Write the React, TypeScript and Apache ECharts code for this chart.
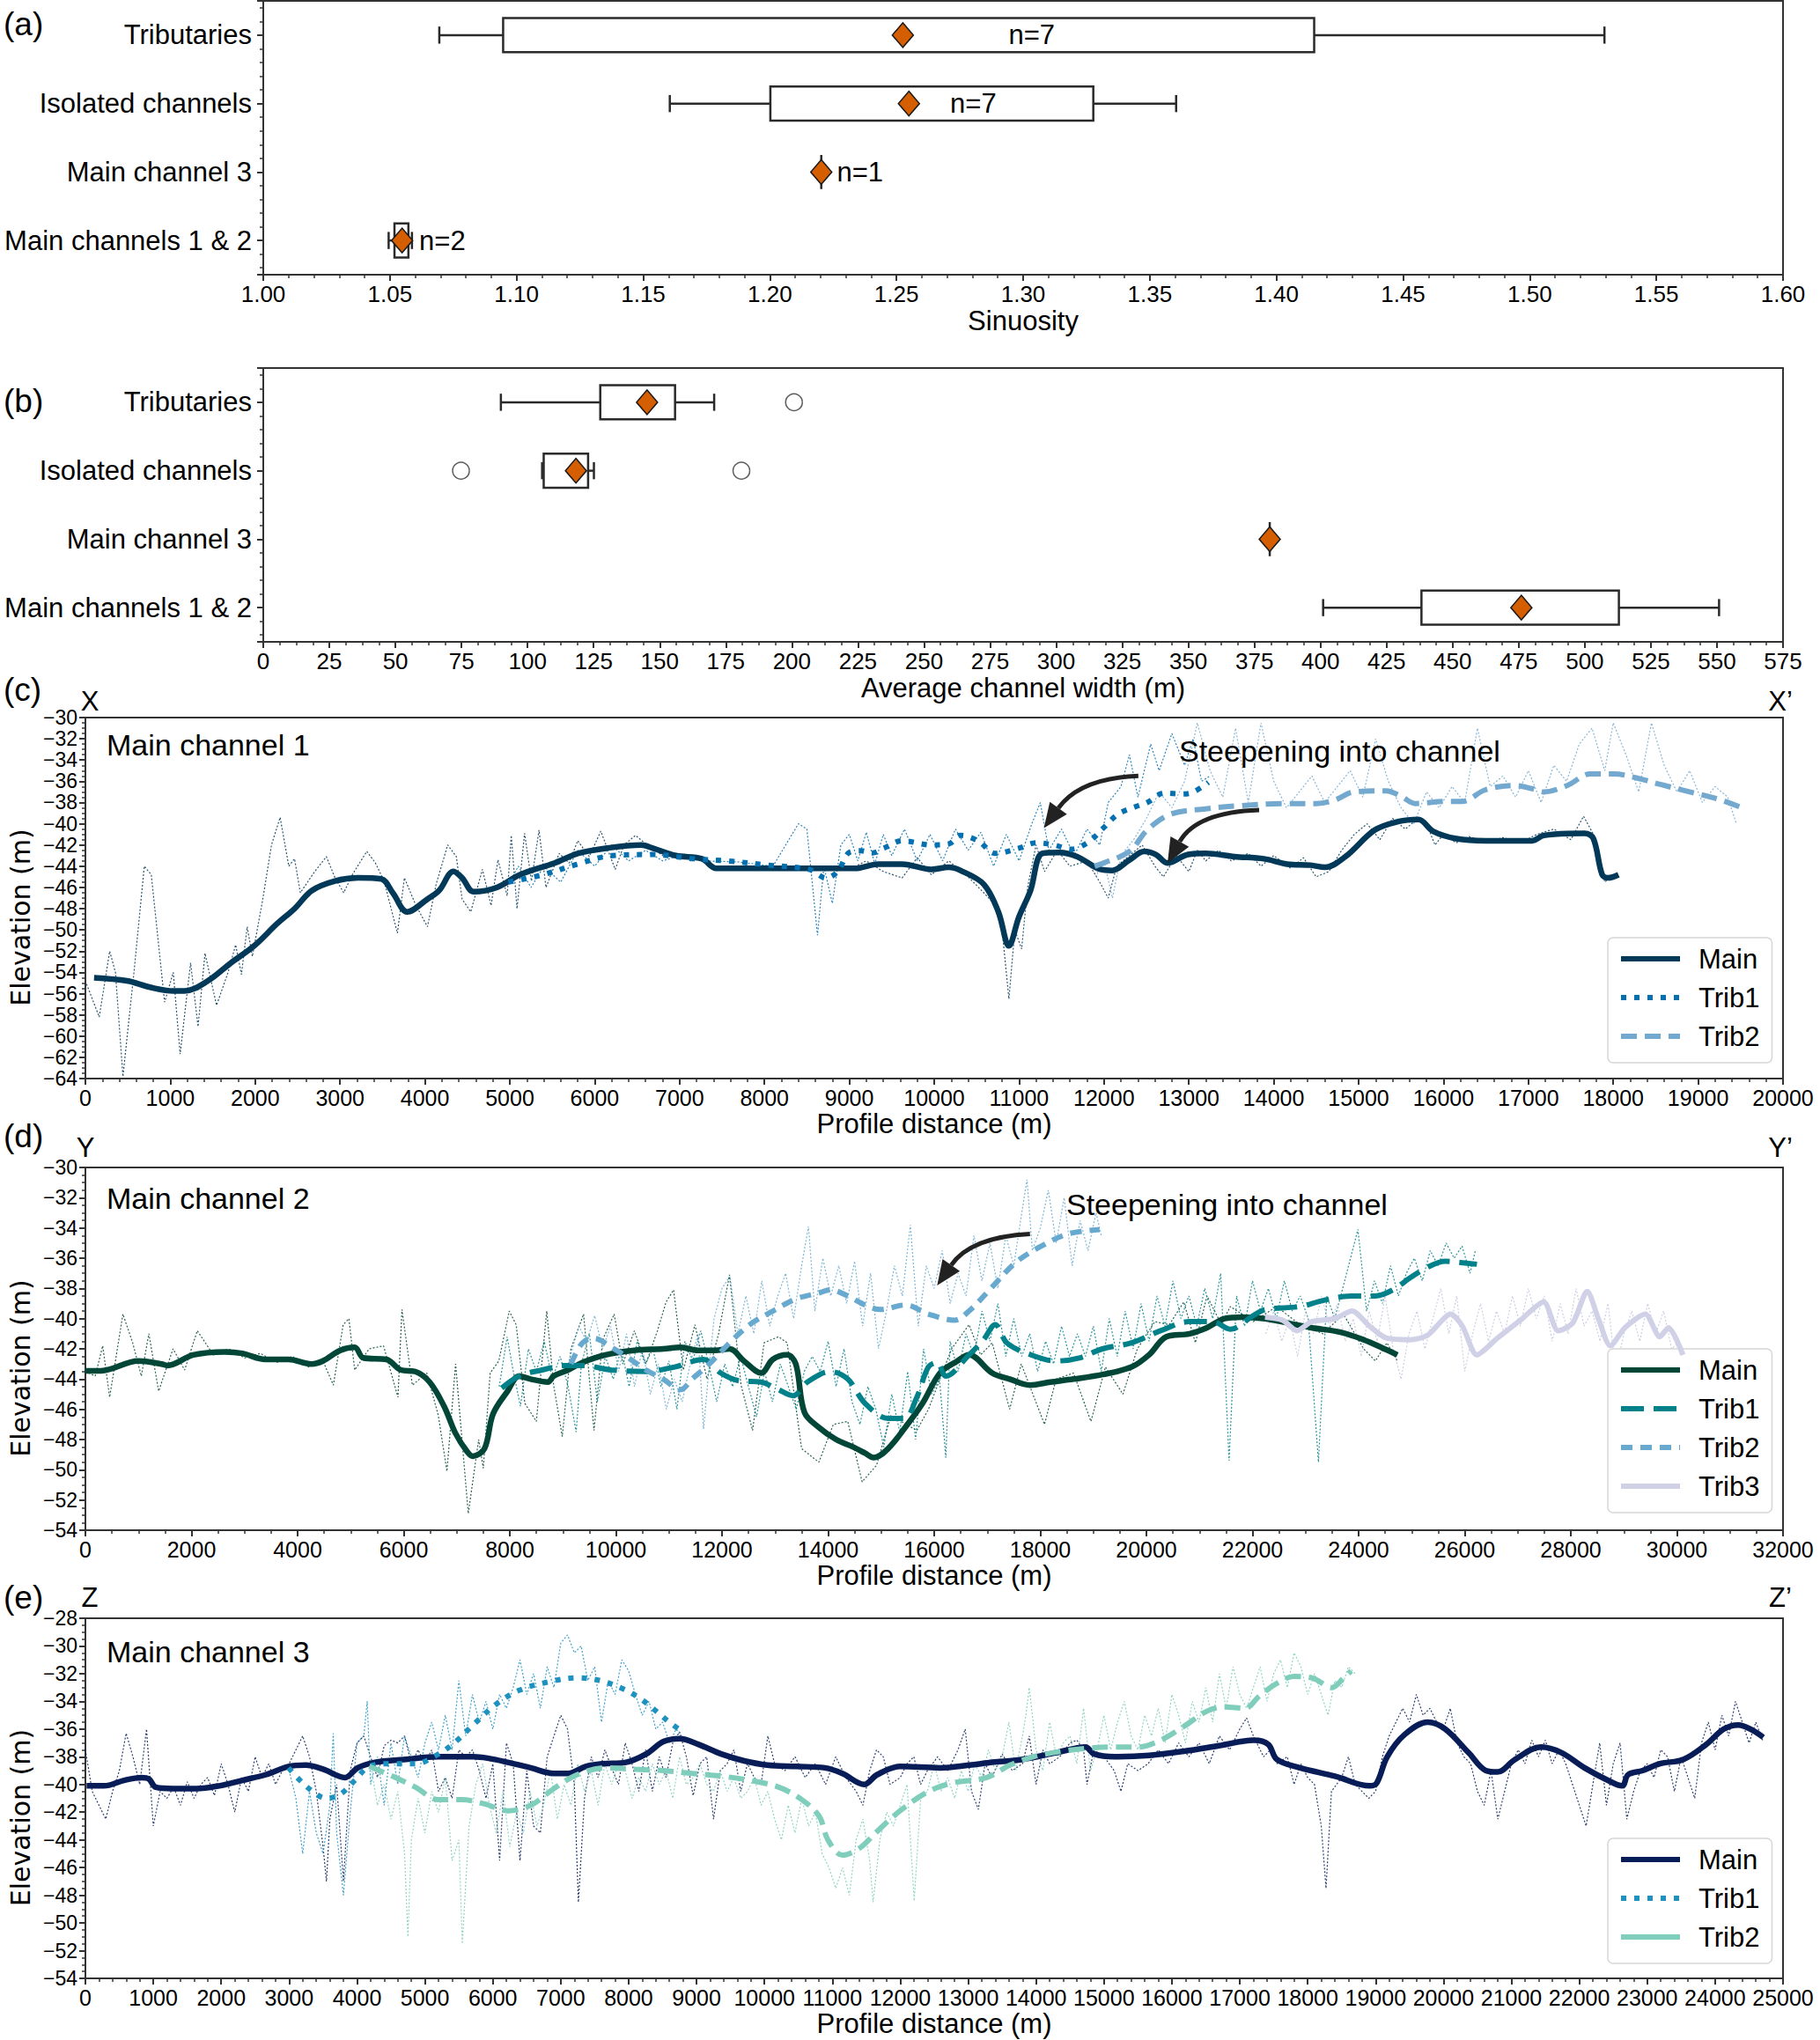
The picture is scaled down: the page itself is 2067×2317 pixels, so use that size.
import React, { useEffect, useRef } from 'react';
import * as echarts from 'echarts';

const W = 2067;
const H = 2317;
const FONT = 'Liberation Sans, Arial, sans-serif';
const TXT = '#000';
const AX = '#333';

// ---------- (a) / (b) box plots ----------
const categories = ['Main channels 1 & 2', 'Main channel 3', 'Isolated channels', 'Tributaries']; // positions 1..4
// [position, whiskerLow, q1, q3, whiskerHigh]
const sinBoxes = [
  [1, 1.0495, 1.0518, 1.0573, 1.0587],
  [2, 1.2203, 1.2203, 1.2203, 1.2203],
  [3, 1.1605, 1.2002, 1.3277, 1.3604],
  [4, 1.0695, 1.0947, 1.4149, 1.5295],
];
const sinMeans = [[1.0548, 1], [1.2203, 2], [1.2549, 3], [1.2525, 4]];
const sinCountPos = [[1.0707, 1], [1.2356, 2], [1.2803, 3], [1.3034, 4]];
const sinCountText = ['n=2', 'n=1', 'n=7', 'n=7'];

const widthBoxes = [
  [1, 401, 438.2, 512.9, 550.8],
  [2, 380.8, 380.8, 380.8, 380.8],
  [3, 105.5, 106.1, 122.9, 125.1],
  [4, 89.9, 127.5, 155.8, 170.6],
];
const widthMeans = [[476, 1], [380.8, 2], [118.3, 3], [145.2, 4]];
const widthOutliers = [[74.8, 3], [180.9, 3], [200.8, 4]];

// ---------- (c) Main channel 1 ----------
const cMain = [[102,-54.5],[490,-54.8],[762,-55.4],[1035,-55.75],[1170,-55.75],[1443,-54.8],[1715,-53.1],[1988,-51.5],[2260,-49.4],[2464,-48.0],[2668,-46.3],[2941,-45.4],[3213,-45.1],[3485,-45.2],[3621,-46.5],[3792,-48.3],[4030,-47.1],[4166,-46.3],[4336,-44.5],[4438,-45.1],[4574,-46.4],[4847,-46.0],[5119,-44.8],[5527,-43.7],[5800,-42.8],[6140,-42.3],[6549,-42.0],[6685,-42.3],[6957,-43.0],[7263,-43.3],[7433,-44.2],[7842,-44.2],[8522,-44.2],[9067,-44.2],[9340,-43.8],[9622,-43.8],[9966,-44.3],[10172,-44.1],[10309,-44.4],[10584,-45.7],[10756,-48.3],[10880,-51.5],[10997,-48.8],[11134,-46.3],[11271,-42.8],[11478,-42.7],[11684,-43.1],[11959,-44.3],[12096,-44.4],[12302,-43.4],[12474,-42.6],[12612,-42.9],[12749,-43.7],[12990,-42.9],[13196,-42.8],[13540,-43.1],[13883,-43.3],[14158,-43.8],[14433,-43.9],[14605,-44.1],[14845,-43.1],[15189,-40.6],[15464,-39.8],[15704,-39.6],[15876,-40.7],[16151,-41.4],[16495,-41.6],[17045,-41.6],[17182,-41.1],[17663,-40.9],[17766,-41.4],[17869,-44.8],[17938,-45.1],[18062,-44.8]];
const cTrib1 = [[4983,-45.5],[5391,-44.8],[5800,-43.8],[6208,-43.0],[6685,-42.9],[7161,-43.3],[7570,-43.5],[8046,-43.9],[8523,-44.3],[8727,-45.1],[8863,-44.5],[9000,-42.7],[9135,-42.55],[9272,-42.75],[9408,-42.3],[9622,-41.6],[9966,-42.0],[10172,-41.9],[10309,-41.1],[10515,-41.6],[10722,-42.8],[10997,-42.3],[11203,-41.8],[11409,-42.0],[11615,-42.4],[11821,-41.7],[11993,-40.4],[12165,-39.1],[12371,-38.4],[12509,-38.0],[12715,-37.1],[12921,-37.2],[13058,-37.0],[13230,-36.1]];
const cTrib2 = [[11890,-44.0],[11993,-43.7],[12302,-42.6],[12509,-40.6],[12784,-39.1],[13196,-38.6],[13608,-38.3],[14089,-38.1],[14502,-38.1],[14708,-37.8],[14948,-37.0],[15326,-36.9],[15498,-37.4],[15670,-38.1],[16014,-37.9],[16220,-37.9],[16495,-36.8],[16838,-36.4],[17045,-36.7],[17182,-37.0],[17457,-36.4],[17732,-35.3],[18007,-35.3],[18282,-35.7],[18557,-36.3],[18900,-37.0],[19244,-37.7],[19485,-38.4]];
const cMainRaw = [[14,-55.1],[163,-58.2],[286,-52.0],[354,-54.0],[442,-63.8],[572,-54.0],[694,-44.0],[776,-44.8],[933,-56.8],[1035,-54.0],[1116,-61.7],[1239,-53.1],[1327,-59.1],[1409,-52.2],[1545,-57.1],[1681,-54.0],[1770,-51.4],[1838,-54.2],[1906,-49.7],[1967,-52.5],[2090,-47.1],[2192,-42.0],[2294,-39.4],[2396,-44.0],[2464,-43.3],[2532,-46.5],[2702,-44.5],[2839,-43.1],[2941,-45.1],[3043,-46.5],[3145,-44.8],[3315,-42.6],[3417,-43.7],[3519,-45.4],[3676,-50.3],[3758,-45.1],[3894,-47.7],[4030,-49.7],[4132,-45.7],[4268,-42.0],[4370,-43.1],[4438,-47.1],[4540,-48.3],[4677,-44.3],[4779,-47.7],[4861,-43.4],[4969,-46.8],[5017,-41.1],[5085,-48.0],[5174,-40.9],[5255,-45.4],[5344,-40.6],[5426,-46.0],[5582,-42.8],[5698,-43.7],[5800,-41.6],[5936,-43.1],[6072,-40.7],[6242,-44.3],[6345,-42.0],[6481,-41.1],[6617,-42.0],[6821,-43.1],[7161,-43.0],[7433,-44.2],[8000,-44.3],[8500,-44.1],[9000,-44.3],[9200,-43.5],[9400,-44.5],[9622,-45.1],[9800,-43.2],[9966,-44.8],[10172,-43.5],[10400,-45.0],[10584,-46.5],[10700,-47.5],[10800,-50.0],[10880,-56.5],[10950,-50.0],[11030,-51.8],[11100,-46.0],[11200,-42.0],[11300,-44.5],[11450,-42.5],[11600,-44.0],[11800,-43.5],[11950,-45.5],[12050,-47.0],[12150,-44.0],[12300,-43.0],[12450,-42.0],[12600,-44.0],[12700,-45.0],[12850,-43.0],[13000,-44.5],[13100,-42.5],[13200,-43.5],[13350,-42.5],[13500,-43.5],[13700,-42.8],[13850,-44.0],[14000,-43.0],[14200,-44.2],[14350,-43.2],[14500,-45.0],[14650,-44.5],[14800,-42.5],[14950,-41.0],[15100,-40.0],[15250,-41.5],[15400,-39.5],[15550,-40.5],[15700,-39.5],[15800,-40.0],[15900,-42.0],[16000,-41.0],[16150,-41.8],[16300,-41.2],[16500,-41.8],[16700,-41.3],[16900,-41.8],[17100,-41.0],[17300,-40.5],[17500,-41.5],[17650,-39.3],[17800,-41.5],[17900,-45.5],[18000,-44.8]];
const cTrib1Raw = [[5000,-45.5],[5100,-44.0],[5250,-46.0],[5400,-44.0],[5600,-45.5],[5800,-42.5],[6000,-44.0],[6200,-42.0],[6400,-43.5],[6600,-42.5],[6800,-43.5],[7000,-43.0],[7300,-43.5],[7700,-43.6],[8100,-44.0],[8400,-40.0],[8500,-40.5],[8625,-50.5],[8700,-44.0],[8800,-47.5],[8900,-42.0],[9000,-41.0],[9100,-43.5],[9200,-40.8],[9300,-43.8],[9400,-41.0],[9500,-43.0],[9650,-40.5],[9800,-43.5],[9950,-41.0],[10100,-43.5],[10250,-40.5],[10400,-42.5],[10550,-40.8],[10700,-44.0],[10850,-41.0],[11000,-43.5],[11150,-40.0],[11250,-38.0],[11350,-42.5],[11500,-40.5],[11650,-43.0],[11800,-40.5],[11950,-42.0],[12050,-38.0],[12200,-36.5],[12300,-33.5],[12400,-37.5],[12550,-32.5],[12650,-35.0],[12800,-31.5],[12950,-34.5],[13050,-32.0],[13150,-36.0],[13250,-35.5]];
const cTrib2Raw = [[11900,-45.0],[12000,-43.5],[12100,-47.0],[12200,-43.0],[12350,-41.5],[12500,-39.5],[12650,-37.0],[12800,-38.5],[12950,-36.0],[13100,-30.5],[13250,-35.0],[13400,-37.5],[13550,-31.0],[13700,-38.0],[13850,-30.5],[14000,-36.0],[14150,-38.5],[14300,-37.0],[14450,-35.5],[14600,-38.0],[14750,-36.5],[14900,-35.0],[15050,-37.5],[15200,-32.0],[15350,-36.0],[15500,-38.5],[15650,-40.0],[15800,-37.0],[15950,-38.5],[16100,-36.5],[16250,-38.0],[16400,-31.0],[16550,-36.5],[16700,-35.5],[16850,-37.5],[17000,-35.0],[17150,-38.0],[17300,-34.5],[17450,-36.0],[17600,-32.5],[17750,-31.0],[17900,-35.0],[18000,-30.5],[18150,-33.5],[18300,-37.0],[18450,-30.5],[18600,-34.5],[18750,-37.0],[18900,-35.0],[19050,-38.0],[19200,-36.5],[19350,-37.5],[19450,-40.0]];

// ---------- (d) Main channel 2 ----------
const dMain = [[0,-43.45],[293,-43.45],[1000,-42.8],[1435,-43.0],[1543,-43.1],[2033,-42.4],[2630,-42.2],[2957,-42.3],[3391,-42.7],[3826,-42.7],[4261,-43.0],[4478,-42.8],[4804,-42.1],[5076,-41.9],[5239,-42.6],[5674,-42.7],[5946,-43.4],[6217,-43.5],[6489,-44.2],[6761,-45.8],[6978,-47.6],[7196,-48.8],[7304,-49.1],[7522,-48.6],[7685,-46.3],[7957,-44.8],[8174,-43.8],[8391,-44.0],[8717,-44.2],[8826,-43.8],[9098,-43.4],[9370,-42.9],[9804,-42.4],[10348,-42.1],[10891,-42.0],[11217,-41.9],[11543,-42.1],[11870,-42.1],[12141,-42.0],[12413,-42.8],[12739,-43.6],[12957,-42.7],[13228,-42.4],[13391,-43.0],[13554,-46.2],[13826,-47.2],[14152,-48.0],[14478,-48.5],[14696,-48.9],[14859,-49.2],[15130,-48.6],[15453,-47.2],[15781,-45.6],[16109,-43.6],[16438,-42.8],[16656,-42.4],[17094,-43.6],[17422,-44.0],[17805,-44.4],[18188,-44.2],[18626,-44.0],[19173,-43.7],[19720,-43.2],[20048,-42.4],[20376,-41.2],[20814,-41.0],[21142,-40.6],[21470,-40.0],[21799,-39.9],[22236,-40.0],[22674,-40.3],[23112,-40.6],[23659,-40.9],[24096,-41.4],[24424,-41.9],[24731,-42.4]];
const dTrib1 = [[7848,-44.6],[8174,-43.8],[8609,-43.4],[9043,-43.1],[9370,-43.1],[9913,-43.4],[10565,-43.5],[11109,-43.2],[11652,-42.7],[11978,-43.6],[12304,-44.1],[12739,-44.2],[13065,-44.7],[13337,-45.1],[13609,-44.2],[14043,-43.5],[14370,-44.0],[14696,-45.6],[15130,-46.6],[15435,-46.6],[15672,-45.2],[15891,-43.2],[16055,-42.9],[16219,-43.8],[16656,-42.4],[16930,-41.4],[17149,-40.4],[17368,-41.6],[17750,-42.3],[18298,-42.8],[18735,-42.6],[19173,-42.0],[19720,-41.6],[20267,-40.8],[20814,-40.2],[21252,-40.2],[21580,-40.7],[22018,-39.8],[22236,-39.4],[22893,-39.2],[23330,-38.8],[23877,-38.5],[24315,-38.5],[24643,-38.1],[24971,-37.3],[25300,-36.6],[25628,-36.2],[25956,-36.3],[26230,-36.4]];
const dTrib2 = [[9152,-43.0],[9370,-41.6],[9587,-41.3],[9913,-41.9],[10239,-42.6],[10565,-43.4],[10891,-44.0],[11217,-44.7],[11435,-44.0],[11761,-43.0],[12087,-41.8],[12522,-40.4],[12957,-39.5],[13391,-38.7],[13826,-38.3],[14043,-38.1],[14370,-38.5],[14696,-39.1],[14989,-39.4],[15453,-39.1],[15891,-39.7],[16383,-40.1],[16656,-39.5],[17094,-37.9],[17532,-36.3],[17969,-35.3],[18516,-34.4],[19118,-34.1]];
const dTrib3 = [[22236,-39.9],[22565,-40.1],[22838,-40.8],[23112,-40.2],[23549,-40.0],[23877,-39.5],[24206,-40.5],[24534,-41.3],[24971,-41.4],[25300,-41.1],[25737,-39.7],[25956,-40.5],[26230,-42.4],[26613,-41.3],[27050,-40.1],[27488,-38.9],[27761,-40.8],[28035,-40.3],[28309,-38.2],[28528,-40.1],[28746,-41.8],[29020,-40.6],[29403,-39.7],[29677,-41.2],[29840,-40.6],[30114,-42.4]];
const dMainRaw = [[0,-43.5],[185,-43.8],[326,-41.8],[457,-45.2],[707,-39.7],[891,-41.6],[1054,-43.8],[1196,-41.0],[1380,-44.8],[1652,-42.0],[1870,-43.4],[2109,-40.8],[2413,-42.4],[2700,-42.0],[3000,-42.6],[3300,-42.3],[3600,-42.9],[3900,-42.5],[4200,-43.2],[4478,-42.8],[4674,-44.4],[4859,-40.4],[4967,-40.0],[5076,-43.4],[5348,-42.0],[5620,-41.8],[5891,-45.2],[5967,-39.4],[6163,-44.4],[6435,-43.6],[6652,-46.4],[6815,-50.1],[6978,-43.0],[7217,-52.9],[7413,-48.0],[7500,-49.9],[7630,-43.6],[7793,-42.8],[7989,-39.5],[8120,-40.4],[8283,-45.6],[8500,-46.8],[8696,-39.5],[8826,-44.4],[8989,-47.8],[9152,-42.0],[9391,-39.7],[9587,-47.4],[9750,-41.4],[9967,-39.7],[10130,-43.0],[10348,-40.8],[10565,-43.0],[10783,-40.8],[10946,-38.9],[11087,-38.1],[11272,-43.4],[11490,-40.4],[11717,-44.0],[11935,-41.0],[12141,-37.1],[12359,-44.4],[12576,-47.4],[12793,-41.6],[13065,-41.2],[13228,-41.6],[13500,-48.6],[13826,-49.5],[14098,-47.0],[14370,-46.8],[14641,-50.8],[14913,-49.7],[15185,-46.4],[15672,-47.4],[15891,-46.0],[16109,-44.0],[16328,-42.0],[16656,-40.4],[16875,-42.4],[17094,-41.6],[17422,-46.0],[17641,-43.0],[18079,-47.0],[18298,-44.0],[18626,-43.6],[18954,-46.8],[19228,-43.2],[19557,-45.0],[19829,-42.0],[20157,-40.2],[20431,-40.4],[20705,-38.9],[20923,-41.6],[21142,-38.5],[21415,-40.4],[21580,-39.2],[22018,-40.2],[22455,-39.2],[22893,-40.4],[23330,-41.0],[23713,-39.7],[24096,-42.0],[24315,-42.8],[24534,-41.6],[24731,-42.8]];
const dTrib1Raw = [[7800,-44.5],[7950,-41.2],[8050,-43.2],[8200,-45.8],[8350,-42.0],[8500,-43.5],[8650,-41.5],[8800,-44.0],[8950,-42.5],[9100,-44.5],[9250,-47.5],[9350,-43.0],[9500,-41.0],[9650,-45.5],[9800,-42.5],[9950,-44.0],[10100,-42.0],[10250,-44.5],[10400,-41.5],[10550,-43.0],[10700,-42.0],[10850,-44.5],[11000,-42.8],[11150,-46.0],[11300,-41.5],[11450,-42.8],[11600,-40.8],[11750,-43.0],[11900,-45.5],[12050,-43.0],[12200,-44.5],[12350,-42.5],[12500,-44.5],[12650,-46.5],[12800,-43.5],[12950,-45.5],[13100,-43.0],[13250,-44.5],[13400,-46.0],[13550,-43.5],[13700,-42.5],[13850,-43.5],[14000,-41.5],[14150,-44.5],[14300,-42.0],[14450,-45.5],[14600,-47.0],[14750,-44.5],[14900,-46.0],[15050,-48.5],[15200,-45.0],[15350,-47.5],[15500,-43.5],[15650,-48.0],[15800,-42.0],[15950,-45.0],[16100,-44.0],[16219,-49.2],[16300,-41.5],[16450,-43.5],[16600,-41.0],[16750,-42.5],[16900,-39.5],[17050,-41.5],[17200,-39.0],[17350,-42.5],[17500,-40.0],[17650,-42.5],[17800,-41.0],[17950,-43.5],[18100,-41.5],[18250,-43.0],[18400,-40.5],[18550,-42.5],[18700,-41.0],[18850,-42.5],[19000,-40.5],[19150,-43.5],[19300,-40.0],[19450,-42.5],[19600,-39.5],[19750,-42.0],[19900,-39.0],[20050,-41.5],[20200,-38.5],[20350,-40.5],[20500,-37.5],[20650,-40.0],[20800,-38.5],[20950,-40.5],[21100,-38.0],[21250,-40.0],[21400,-37.0],[21558,-49.4],[21700,-38.5],[21850,-40.5],[22000,-37.5],[22150,-39.5],[22300,-38.0],[22450,-40.0],[22600,-37.5],[22750,-39.5],[22900,-38.5],[23050,-40.0],[23243,-49.5],[23400,-38.5],[23550,-40.0],[23700,-38.0],[23987,-34.1],[24150,-39.5],[24300,-37.5],[24450,-39.0],[24600,-36.5],[24750,-38.5],[24900,-37.0],[25050,-36.0],[25200,-37.5],[25350,-35.5],[25500,-36.5],[25650,-35.0],[25800,-36.0],[25950,-35.2],[26100,-37.0],[26200,-35.5]];
const dTrib2Raw = [[9100,-43.0],[9300,-40.5],[9450,-41.5],[9600,-39.8],[9750,-42.0],[9900,-40.5],[10050,-43.5],[10200,-41.0],[10350,-44.5],[10500,-42.0],[10650,-45.0],[10800,-43.0],[10950,-46.0],[11100,-44.0],[11250,-45.5],[11400,-43.0],[11550,-41.0],[11652,-47.3],[11750,-43.5],[11850,-40.0],[12000,-38.0],[12150,-37.2],[12300,-41.0],[12450,-38.5],[12600,-41.0],[12750,-37.5],[12900,-40.5],[13050,-38.5],[13200,-37.0],[13350,-40.0],[13500,-36.5],[13630,-33.9],[13750,-39.5],[13900,-36.0],[14050,-38.5],[14200,-36.5],[14350,-39.0],[14500,-36.2],[14650,-40.5],[14800,-37.0],[14950,-42.0],[15100,-39.5],[15250,-36.5],[15400,-38.5],[15550,-33.8],[15700,-40.5],[15850,-36.5],[16000,-38.0],[16150,-35.5],[16300,-39.0],[16450,-37.0],[16600,-38.5],[16750,-34.5],[16900,-37.5],[17050,-35.0],[17200,-38.0],[17350,-34.5],[17500,-36.5],[17650,-33.0],[17750,-30.8],[17850,-35.5],[18000,-34.0],[18150,-31.5],[18300,-35.0],[18450,-32.0],[18600,-36.5],[18750,-33.5],[18900,-35.5],[19050,-33.0],[19150,-34.5]];
const dTrib3Raw = [[22250,-41.0],[22400,-39.5],[22550,-41.5],[22700,-40.0],[22850,-42.5],[23000,-39.5],[23150,-41.0],[23300,-38.5],[23450,-40.5],[23600,-39.0],[23750,-41.5],[23900,-40.0],[24050,-42.5],[24200,-39.5],[24350,-41.5],[24500,-38.5],[24650,-42.0],[24800,-44.0],[24950,-41.0],[25100,-39.5],[25250,-42.0],[25400,-40.0],[25550,-38.0],[25700,-41.0],[25850,-38.5],[26000,-43.5],[26150,-41.0],[26300,-39.0],[26450,-41.5],[26600,-39.5],[26750,-41.0],[26900,-38.5],[27050,-40.5],[27200,-38.0],[27350,-40.0],[27500,-38.5],[27650,-41.5],[27800,-39.0],[27950,-41.0],[28100,-38.0],[28250,-40.5],[28400,-39.5],[28550,-41.5],[28700,-39.0],[28850,-43.5],[29000,-41.0],[29150,-39.5],[29300,-41.5],[29450,-39.0],[29600,-41.0],[29750,-39.5],[29900,-42.0],[30050,-41.5],[30150,-42.5]];

// ---------- (e) Main channel 3 ----------
const eMain = [[17,-40.1],[272,-40.1],[569,-39.7],[824,-39.5],[935,-39.6],[1037,-40.2],[1291,-40.3],[1631,-40.3],[1971,-40.1],[2311,-39.7],[2651,-39.3],[2991,-38.7],[3246,-38.6],[3500,-38.9],[3823,-39.5],[4010,-38.8],[4265,-38.4],[4690,-38.2],[5200,-38.0],[5710,-38.0],[5922,-38.1],[6219,-38.4],[6559,-38.8],[6899,-39.2],[7111,-39.2],[7366,-38.7],[7621,-38.5],[7961,-38.4],[8258,-37.8],[8513,-36.9],[8751,-36.7],[9023,-37.1],[9363,-37.8],[9703,-38.3],[10042,-38.6],[10467,-38.7],[10892,-38.8],[11147,-39.2],[11470,-40.0],[11657,-39.3],[11997,-38.7],[12590,-38.8],[13017,-38.6],[13359,-38.4],[13786,-38.2],[14299,-37.7],[14726,-37.3],[14855,-37.8],[15154,-38.0],[15667,-37.9],[16179,-37.6],[16692,-37.2],[17205,-36.8],[17419,-37.1],[17547,-38.2],[17889,-38.8],[18402,-39.4],[18915,-40.1],[19017,-39.9],[19171,-38.0],[19427,-36.4],[19769,-35.5],[20026,-36.0],[20368,-37.7],[20624,-39.0],[20795,-39.1],[21051,-38.2],[21436,-37.3],[21735,-37.7],[22077,-38.8],[22419,-39.7],[22632,-40.1],[22718,-39.3],[22932,-39.0],[23188,-38.5],[23530,-38.2],[23872,-37.1],[24128,-36.0],[24342,-35.7],[24556,-36.1],[24709,-36.6]];
const eTrib1 = [[2991,-38.8],[3160,-39.7],[3373,-40.6],[3543,-41.0],[3755,-40.7],[3968,-39.7],[4180,-38.7],[4520,-38.5],[4860,-38.5],[5200,-37.8],[5455,-36.9],[5710,-35.7],[6049,-34.2],[6389,-33.2],[6814,-32.6],[7239,-32.3],[7579,-32.5],[7919,-33.1],[8173,-33.8],[8428,-34.8],[8598,-35.5],[8768,-36.1]];
const eTrib2 = [[4180,-38.7],[4520,-39.4],[4860,-40.2],[5200,-41.1],[5540,-41.1],[5879,-41.4],[6219,-41.9],[6559,-41.5],[6899,-40.3],[7239,-39.3],[7664,-38.8],[8088,-38.9],[8513,-39.0],[8938,-39.2],[9363,-39.4],[9788,-39.7],[10212,-40.2],[10552,-41.1],[10807,-42.3],[10935,-44.0],[11147,-45.1],[11402,-44.6],[11657,-43.4],[11997,-41.9],[12419,-40.5],[12761,-39.9],[13274,-39.5],[13615,-38.6],[13957,-38.0],[14385,-37.6],[14726,-37.4],[15068,-37.3],[15496,-37.3],[15838,-36.8],[16179,-35.8],[16521,-34.7],[16778,-34.4],[17077,-34.5],[17291,-33.6],[17547,-32.7],[17803,-32.2],[18060,-32.3],[18359,-33.0],[18530,-32.3],[18641,-31.8]];
const eMainRaw = [[0,-37.5],[100,-40.5],[200,-41.5],[300,-42.5],[400,-40.5],[500,-39.0],[600,-36.3],[700,-38.0],[800,-40.0],[900,-36.0],[1000,-43.0],[1100,-40.5],[1200,-41.0],[1300,-40.2],[1400,-41.5],[1500,-39.8],[1600,-41.0],[1700,-40.0],[1800,-39.5],[1900,-40.8],[2000,-38.5],[2100,-40.0],[2200,-42.0],[2300,-39.5],[2400,-40.5],[2500,-38.0],[2600,-39.5],[2700,-38.5],[2800,-40.0],[2900,-39.0],[3000,-38.5],[3100,-37.5],[3200,-36.5],[3300,-38.0],[3400,-40.5],[3500,-44.5],[3550,-47.0],[3600,-42.5],[3700,-40.0],[3800,-47.0],[3900,-39.0],[4000,-37.0],[4100,-36.5],[4200,-38.0],[4300,-39.5],[4400,-37.2],[4500,-36.8],[4600,-37.0],[4700,-36.5],[4800,-38.5],[4900,-37.5],[5000,-38.5],[5100,-37.5],[5200,-40.5],[5300,-39.5],[5400,-41.0],[5500,-37.5],[5600,-38.0],[5700,-37.5],[5800,-39.0],[5900,-41.0],[6000,-38.5],[6100,-45.5],[6200,-37.0],[6300,-38.5],[6400,-45.5],[6500,-39.0],[6600,-43.0],[6700,-43.5],[6800,-38.0],[6900,-36.5],[7000,-35.0],[7100,-36.0],[7200,-40.0],[7260,-48.5],[7350,-41.0],[7450,-38.0],[7550,-39.5],[7650,-37.5],[7750,-38.8],[7850,-40.0],[7950,-37.0],[8050,-38.5],[8150,-40.5],[8250,-37.5],[8350,-40.5],[8450,-38.0],[8550,-39.5],[8650,-37.0],[8750,-36.2],[8850,-38.0],[8950,-40.8],[9050,-38.5],[9150,-38.0],[9250,-42.5],[9350,-39.0],[9450,-38.5],[9550,-37.5],[9650,-40.5],[9750,-38.5],[9850,-39.5],[9950,-40.0],[10050,-36.5],[10150,-38.5],[10300,-39.0],[10450,-38.0],[10600,-39.5],[10750,-38.5],[10900,-40.0],[11050,-38.0],[11200,-39.5],[11350,-40.5],[11450,-41.5],[11550,-39.0],[11650,-37.5],[11750,-38.0],[11850,-40.0],[12000,-39.5],[12100,-38.5],[12200,-38.0],[12300,-40.0],[12400,-39.0],[12550,-38.0],[12700,-39.0],[12850,-37.5],[12957,-36.0],[13050,-40.5],[13150,-41.8],[13250,-38.5],[13350,-39.5],[13500,-37.8],[13650,-39.0],[13800,-38.5],[13900,-36.5],[14000,-40.0],[14100,-37.5],[14200,-38.5],[14350,-38.0],[14500,-37.0],[14600,-36.8],[14700,-37.5],[14750,-40.0],[14850,-37.5],[15000,-38.0],[15150,-39.0],[15250,-40.5],[15350,-38.5],[15500,-39.0],[15650,-38.5],[15800,-37.5],[15950,-38.5],[16100,-37.0],[16250,-38.0],[16400,-37.0],[16550,-38.5],[16700,-36.5],[16850,-37.5],[17000,-36.0],[17100,-35.2],[17200,-36.5],[17350,-38.0],[17450,-37.5],[17550,-38.5],[17700,-38.0],[17800,-40.0],[17900,-38.5],[18000,-39.5],[18100,-40.0],[18200,-43.0],[18270,-47.5],[18350,-40.5],[18500,-39.5],[18600,-38.0],[18700,-40.0],[18800,-40.5],[18900,-41.0],[19000,-40.5],[19100,-38.0],[19200,-36.5],[19300,-35.5],[19400,-34.5],[19500,-35.5],[19600,-33.5],[19700,-35.0],[19800,-34.5],[19900,-35.5],[20000,-36.0],[20100,-34.5],[20200,-37.0],[20300,-38.0],[20400,-38.5],[20500,-40.5],[20600,-41.5],[20700,-39.0],[20800,-42.5],[20900,-40.5],[21000,-38.5],[21100,-37.5],[21200,-38.5],[21300,-36.8],[21400,-38.0],[21500,-36.8],[21600,-38.5],[21700,-37.5],[21800,-38.5],[21900,-40.0],[22000,-41.5],[22100,-43.0],[22200,-40.0],[22300,-37.0],[22400,-41.5],[22500,-38.5],[22600,-37.0],[22700,-42.5],[22800,-40.5],[22900,-39.0],[23000,-38.5],[23100,-39.5],[23200,-37.5],[23300,-38.0],[23400,-40.5],[23500,-38.0],[23600,-39.5],[23700,-41.0],[23800,-37.0],[23900,-35.5],[24000,-37.5],[24100,-35.0],[24200,-36.5],[24300,-34.0],[24400,-35.5],[24500,-37.0],[24600,-35.5],[24700,-36.8]];
const eTrib1Raw = [[3000,-39.0],[3100,-41.0],[3200,-45.0],[3300,-40.5],[3400,-43.5],[3500,-45.0],[3600,-41.5],[3650,-36.3],[3700,-43.5],[3800,-48.0],[3900,-42.0],[4000,-37.0],[4100,-36.5],[4150,-34.0],[4200,-40.0],[4300,-38.0],[4400,-41.5],[4500,-37.0],[4600,-40.0],[4700,-36.5],[4800,-38.0],[4900,-39.5],[5000,-37.0],[5100,-35.5],[5200,-37.5],[5300,-35.0],[5400,-37.5],[5500,-32.5],[5600,-36.5],[5700,-33.5],[5800,-35.5],[5900,-34.0],[6000,-36.0],[6100,-33.5],[6200,-34.5],[6300,-33.0],[6400,-31.0],[6500,-33.5],[6600,-32.0],[6700,-34.5],[6800,-31.5],[6900,-33.0],[7000,-29.8],[7100,-29.2],[7200,-30.5],[7300,-30.0],[7400,-32.5],[7500,-31.5],[7600,-35.5],[7700,-32.5],[7800,-33.5],[7900,-31.0],[8000,-31.8],[8100,-33.5],[8200,-35.0],[8300,-34.0],[8400,-36.0],[8500,-35.5],[8600,-37.0],[8700,-36.0],[8780,-36.5]];
const eTrib2Raw = [[4200,-38.5],[4300,-41.5],[4400,-40.0],[4500,-42.5],[4600,-40.5],[4700,-45.0],[4750,-51.0],[4800,-44.0],[4900,-41.0],[5000,-43.5],[5100,-40.5],[5200,-42.0],[5300,-39.5],[5400,-45.5],[5500,-44.0],[5550,-51.5],[5650,-43.0],[5750,-40.0],[5850,-38.5],[5950,-41.5],[6050,-43.5],[6150,-40.5],[6250,-44.5],[6350,-42.0],[6450,-43.5],[6550,-40.5],[6650,-43.0],[6750,-41.5],[6850,-39.0],[6950,-42.5],[7050,-40.0],[7150,-41.5],[7250,-38.5],[7350,-40.5],[7450,-39.0],[7550,-41.5],[7650,-38.5],[7750,-40.0],[7850,-38.5],[7950,-39.0],[8050,-41.0],[8150,-39.5],[8250,-40.5],[8350,-38.5],[8450,-40.0],[8550,-39.0],[8650,-41.0],[8750,-38.0],[8850,-40.0],[8950,-39.5],[9050,-38.5],[9150,-40.0],[9250,-40.5],[9350,-39.0],[9450,-40.5],[9550,-39.5],[9650,-41.0],[9750,-40.5],[9850,-39.5],[9950,-41.5],[10050,-40.5],[10150,-42.5],[10250,-44.0],[10350,-41.5],[10450,-43.5],[10550,-41.0],[10650,-43.0],[10750,-42.0],[10850,-45.0],[10950,-46.0],[11050,-47.5],[11150,-46.0],[11250,-48.0],[11350,-44.0],[11450,-42.5],[11550,-45.5],[11600,-48.5],[11700,-44.0],[11800,-42.0],[11900,-43.0],[12000,-41.5],[12100,-40.0],[12205,-48.4],[12300,-41.0],[12400,-40.5],[12500,-38.5],[12600,-40.5],[12700,-39.5],[12800,-41.0],[12900,-39.0],[13000,-40.5],[13100,-38.5],[13200,-39.5],[13300,-37.5],[13400,-39.0],[13500,-38.0],[13600,-35.5],[13700,-39.0],[13800,-36.5],[13850,-35.0],[13900,-33.0],[14000,-37.5],[14100,-39.0],[14200,-35.5],[14300,-38.0],[14400,-37.0],[14500,-36.5],[14600,-38.5],[14700,-34.5],[14800,-39.0],[14900,-37.5],[15000,-35.0],[15100,-37.5],[15200,-35.5],[15300,-34.0],[15400,-36.5],[15500,-37.5],[15600,-35.0],[15700,-36.5],[15800,-34.5],[15900,-37.0],[16000,-33.5],[16100,-35.0],[16200,-37.0],[16300,-34.0],[16400,-35.5],[16500,-33.0],[16600,-35.5],[16700,-32.0],[16800,-34.5],[16900,-31.5],[17000,-33.5],[17100,-34.5],[17200,-33.0],[17300,-31.5],[17400,-34.0],[17500,-32.0],[17600,-31.0],[17700,-33.0],[17800,-30.5],[17900,-31.5],[18000,-33.5],[18100,-32.0],[18200,-33.5],[18300,-35.0],[18400,-32.5],[18500,-33.0],[18600,-31.5],[18700,-32.0]];

// annotation arrows: [startX, startY, ctrlX, ctrlY, tipX, tipY]
const cArrows = [[12405,-35.5,11720,-35.7,11292,-40.4],[13828,-38.7,13090,-38.9,12749,-43.7]];
const dArrows = [[17805,-34.4,16690,-34.6,16055,-37.8]];

const C_COL = { main: '#023858', t1: '#0570b0', t2: '#74a9cf' };
const D_COL = { main: '#014636', t1: '#02818a', t2: '#67a9cf', t3: '#d0d1e6' };
const E_COL = { main: '#081d58', t1: '#1d91c0', t2: '#7fcdbb' };

const minus = (v: number) => (v < 0 ? '\u2212' + Math.abs(v) : String(v));

function baseAxis(gridIndex: number, minorSplit: number) {
  return {
    gridIndex,
    axisLine: { show: true, lineStyle: { color: AX, width: 2 } },
    axisTick: { show: true, length: 7, lineStyle: { color: AX, width: 2 } },
    minorTick: { show: true, splitNumber: minorSplit, length: 4, lineStyle: { color: AX, width: 1.5 } },
    splitLine: { show: false },
    minorSplitLine: { show: false },
  };
}

function profX(gridIndex: number, max: number, interval: number, minorSplit: number) {
  return {
    ...baseAxis(gridIndex, minorSplit),
    type: 'value', min: 0, max, interval,
    name: 'Profile distance (m)', nameLocation: 'middle', nameGap: 36,
    nameTextStyle: { fontSize: 31, fontFamily: FONT, color: TXT },
    axisLabel: { fontSize: 25, fontFamily: FONT, color: TXT, margin: 9, showMinLabel: true, showMaxLabel: true, formatter: (v: number) => String(v) },
  };
}
function profY(gridIndex: number, min: number, max: number) {
  return {
    ...baseAxis(gridIndex, 4),
    type: 'value', min, max, interval: 2,
    name: 'Elevation (m)', nameLocation: 'middle', nameGap: 58, nameRotate: 90,
    nameTextStyle: { fontSize: 30, fontFamily: 'DejaVu Sans', color: TXT, padding: [0, 44, 0, 0] },
    axisLabel: { fontSize: 23, fontFamily: FONT, color: TXT, margin: 9, showMinLabel: true, showMaxLabel: true, formatter: minus },
  };
}
function catY(gridIndex: number) {
  return {
    ...baseAxis(gridIndex, 5),
    type: 'value', min: 0.5, max: 4.5, splitNumber: 4,
    axisLabel: {
      fontSize: 31, fontFamily: FONT, color: TXT, margin: 13,
      formatter: (v: number) => (Number.isInteger(v) && v >= 1 && v <= 4 ? categories[v - 1] : ''),
    },
  };
}

function renderBox(params: any, api: any) {
  const pos = api.value(0);
  const pLo = api.coord([api.value(1), pos]);
  const pQ1 = api.coord([api.value(2), pos]);
  const pQ3 = api.coord([api.value(3), pos]);
  const pHi = api.coord([api.value(4), pos]);
  const h = Math.abs(api.size([0, 0.5])[1]);
  const cy = pQ1[1];
  const st = { stroke: '#2a2a2a', lineWidth: 2.5, fill: null };
  return {
    type: 'group',
    children: [
      { type: 'line', shape: { x1: pLo[0], y1: cy, x2: pQ1[0], y2: cy }, style: st },
      { type: 'line', shape: { x1: pQ3[0], y1: cy, x2: pHi[0], y2: cy }, style: st },
      { type: 'line', shape: { x1: pLo[0], y1: cy - h / 4, x2: pLo[0], y2: cy + h / 4 }, style: st },
      { type: 'line', shape: { x1: pHi[0], y1: cy - h / 4, x2: pHi[0], y2: cy + h / 4 }, style: st },
      { type: 'rect', shape: { x: pQ1[0], y: cy - h / 2, width: pQ3[0] - pQ1[0], height: h }, style: { stroke: '#2a2a2a', lineWidth: 2.5, fill: '#fff' } },
    ],
  };
}

function renderArrow(params: any, api: any) {
  const p0 = api.coord([api.value(0), api.value(1)]);
  const c = api.coord([api.value(2), api.value(3)]);
  const p1 = api.coord([api.value(4), api.value(5)]);
  const dx = p1[0] - c[0];
  const dy = p1[1] - c[1];
  const len = Math.hypot(dx, dy) || 1;
  const ux = dx / len;
  const uy = dy / len;
  const L = 28;
  const Wd = 12;
  const bx = p1[0] - ux * L;
  const by = p1[1] - uy * L;
  return {
    type: 'group',
    children: [
      { type: 'bezierCurve', shape: { x1: p0[0], y1: p0[1], x2: bx, y2: by, cpx1: c[0], cpy1: c[1] }, style: { stroke: '#222', lineWidth: 5, fill: null } },
      { type: 'polygon', shape: { points: [[p1[0], p1[1]], [bx - uy * Wd, by + ux * Wd], [bx + uy * Wd, by - ux * Wd]] }, style: { fill: '#222' } },
    ],
  };
}

function thick(name: string, data: number[][], gi: number, color: string, type: any, width = 6, smooth = 0.35) {
  return {
    type: 'line', name, data, xAxisIndex: gi, yAxisIndex: gi, showSymbol: false, symbol: 'none',
    smooth, z: 4, lineStyle: { color, width, type }, itemStyle: { color }, silent: true,
  };
}
function raw(name: string, data: number[][], gi: number, color: string, opacity = 0.85) {
  return {
    type: 'line', name, data, xAxisIndex: gi, yAxisIndex: gi, showSymbol: false, symbol: 'none',
    z: 2, lineStyle: { color, width: 1.2, type: [2, 2], opacity }, silent: true,
  };
}

function legend(top: number, names: any[]) {
  return {
    show: true, data: names, orient: 'vertical', left: 1826, top,
    formatter: (n: string) => n.split('|')[1],
    itemWidth: 67, itemHeight: 20, itemGap: 12,
    padding: [8, 14, 14, 12],
    backgroundColor: '#fff', borderColor: '#d6d6d6', borderWidth: 1.5, borderRadius: 6,
    selectedMode: false,
    itemStyle: { color: 'rgba(0,0,0,0)', borderWidth: 0, opacity: 0 },
    lineStyle: { width: 6 },
    textStyle: { fontSize: 31, fontFamily: FONT, color: TXT, lineHeight: 32, padding: [0, 0, 0, 16] },
  };
}

function txt(text: string, x: number, y: number, fontSize: number, align = 'left') {
  return { type: 'text', x, y, z: 100, style: { text, fontSize, fontFamily: FONT, fill: TXT, align, verticalAlign: 'middle' } };
}

function buildOption() {
  const grids = [
    { left: 299, top: 1, width: 1726, height: 311 },
    { left: 299, top: 418, width: 1726, height: 311 },
    { left: 97, top: 815, width: 1928, height: 410 },
    { left: 97, top: 1326, width: 1928, height: 412 },
    { left: 97, top: 1838, width: 1928, height: 409 },
  ].map((g) => ({ ...g, show: true, borderColor: AX, borderWidth: 2, backgroundColor: 'transparent' }));

  const xAxes = [
    {
      ...baseAxis(0, 5), type: 'value', min: 1.0, max: 1.6, interval: 0.05,
      name: 'Sinuosity', nameLocation: 'middle', nameGap: 37,
      nameTextStyle: { fontSize: 31, fontFamily: FONT, color: TXT },
      axisLabel: { fontSize: 26, fontFamily: FONT, color: TXT, margin: 9, formatter: (v: number) => v.toFixed(2) },
    },
    {
      ...baseAxis(1, 4), type: 'value', min: 0, max: 575, interval: 25,
      name: 'Average channel width (m)', nameLocation: 'middle', nameGap: 37,
      nameTextStyle: { fontSize: 31, fontFamily: FONT, color: TXT },
      axisLabel: { fontSize: 26, fontFamily: FONT, color: TXT, margin: 9, formatter: (v: number) => String(v) },
    },
    profX(2, 20000, 1000, 5),
    profX(3, 32000, 2000, 4),
    profX(4, 25000, 1000, 5),
  ];
  const yAxes = [catY(0), catY(1), profY(2, -64, -30), profY(3, -54, -30), profY(4, -54, -28)];

  const diamond = {
    type: 'scatter', symbol: 'diamond', symbolSize: [24, 28], z: 6, silent: true,
    itemStyle: { color: '#d55e00', borderColor: '#1a1a1a', borderWidth: 1.5, opacity: 1 },
  };

  const series: any[] = [
    { type: 'custom', xAxisIndex: 0, yAxisIndex: 0, renderItem: renderBox, data: sinBoxes, encode: { x: [1, 2, 3, 4], y: 0 }, z: 3, silent: true },
    { ...diamond, xAxisIndex: 0, yAxisIndex: 0, data: sinMeans },
    {
      type: 'custom', xAxisIndex: 0, yAxisIndex: 0, data: sinCountPos, encode: { x: 0, y: 1 }, z: 7, silent: true,
      renderItem: (params: any, api: any) => {
        const p = api.coord([api.value(0), api.value(1)]);
        return { type: 'text', x: p[0], y: p[1], style: { text: sinCountText[params.dataIndex], fontSize: 31, fontFamily: FONT, fill: TXT, align: 'center', verticalAlign: 'middle' } };
      },
    },
    { type: 'custom', xAxisIndex: 1, yAxisIndex: 1, renderItem: renderBox, data: widthBoxes, encode: { x: [1, 2, 3, 4], y: 0 }, z: 3, silent: true },
    { ...diamond, xAxisIndex: 1, yAxisIndex: 1, data: widthMeans },
    {
      type: 'scatter', xAxisIndex: 1, yAxisIndex: 1, data: widthOutliers, symbol: 'circle', symbolSize: 19, z: 5, silent: true,
      itemStyle: { color: '#fff', borderColor: '#333', borderWidth: 1.5 },
    },

    // (c)
    raw('c|MainRaw', cMainRaw, 2, C_COL.main),
    raw('c|T1Raw', cTrib1Raw, 2, C_COL.t1),
    raw('c|T2Raw', cTrib2Raw, 2, C_COL.t2),
    thick('c|Main', cMain, 2, C_COL.main, 'solid', 6.5),
    thick('c|Trib1', cTrib1, 2, C_COL.t1, [6, 9]),
    thick('c|Trib2', cTrib2, 2, C_COL.t2, [18, 9]),
    { type: 'custom', xAxisIndex: 2, yAxisIndex: 2, renderItem: renderArrow, data: cArrows, encode: { x: [0, 2, 4], y: [1, 3, 5] }, z: 8, silent: true },

    // (d)
    raw('d|MainRaw', dMainRaw, 3, D_COL.main),
    raw('d|T1Raw', dTrib1Raw, 3, D_COL.t1),
    raw('d|T2Raw', dTrib2Raw, 3, D_COL.t2),
    raw('d|T3Raw', dTrib3Raw, 3, '#b8b9d6', 0.7),
    thick('d|Main', dMain, 3, D_COL.main, 'solid', 6.5),
    thick('d|Trib1', dTrib1, 3, D_COL.t1, [26, 11]),
    thick('d|Trib2', dTrib2, 3, D_COL.t2, [13, 9]),
    thick('d|Trib3', dTrib3, 3, D_COL.t3, 'solid', 6, 0.25),
    { type: 'custom', xAxisIndex: 3, yAxisIndex: 3, renderItem: renderArrow, data: dArrows, encode: { x: [0, 2, 4], y: [1, 3, 5] }, z: 8, silent: true },

    // (e)
    raw('e|MainRaw', eMainRaw, 4, E_COL.main),
    raw('e|T1Raw', eTrib1Raw, 4, E_COL.t1),
    raw('e|T2Raw', eTrib2Raw, 4, E_COL.t2),
    thick('e|Main', eMain, 4, E_COL.main, 'solid', 6.5),
    thick('e|Trib1', eTrib1, 4, E_COL.t1, [6, 9]),
    thick('e|Trib2', eTrib2, 4, E_COL.t2, [18, 9]),
  ];

  const graphic = [
    txt('(a)', 4, 27, 37),
    txt('(b)', 4, 455, 37),
    txt('(c)', 4, 783, 37),
    txt('(d)', 4, 1290, 37),
    txt('(e)', 4, 1814, 37),
    txt('X', 102, 796, 31, 'center'),
    txt('X\u2019', 2022, 796, 31, 'center'),
    txt('Y', 97, 1303, 31, 'center'),
    txt('Y\u2019', 2022, 1303, 31, 'center'),
    txt('Z', 102, 1814, 31, 'center'),
    txt('Z\u2019', 2022, 1814, 31, 'center'),
    txt('Main channel 1', 121, 846, 34),
    txt('Main channel 2', 121, 1361, 34),
    txt('Main channel 3', 121, 1876, 34),
    txt('Steepening into channel', 1339, 853, 34),
    txt('Steepening into channel', 1211, 1368, 34),
  ];

  return {
    animation: false,
    backgroundColor: '#fff',
    grid: grids,
    xAxis: xAxes,
    yAxis: yAxes,
    legend: [
      legend(1065, ['c|Main', 'c|Trib1', 'c|Trib2']),
      legend(1532, ['d|Main', 'd|Trib1', 'd|Trib2', 'd|Trib3']),
      legend(2088, ['e|Main', 'e|Trib1', { name: 'e|Trib2', lineStyle: { type: 'solid' } }]),
    ],
    series,
    graphic,
  };
}

export default function App() {
  const ref = useRef<HTMLDivElement>(null);
  useEffect(() => {
    const chart = echarts.init(ref.current as HTMLDivElement, null, { renderer: 'svg' });
    chart.setOption(buildOption() as any);
    return () => chart.dispose();
  }, []);
  return (
    <div
      ref={ref}
      style={{ position: 'absolute', left: 0, top: 0, width: W, height: H, background: '#fff' }}
    />
  );
}
